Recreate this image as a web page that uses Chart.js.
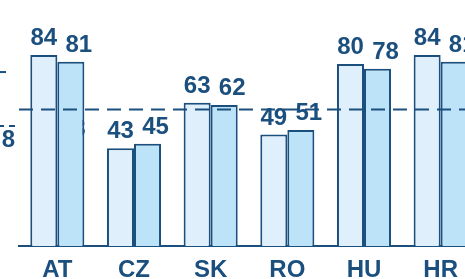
<!DOCTYPE html>
<html>
<head>
<meta charset="utf-8">
<script src="https://cdn.jsdelivr.net/npm/chart.js@4/dist/chart.umd.min.js"></script>
<style>
  html, body { margin: 0; padding: 0; background: #fff; overflow: hidden; }
  #wrap { width: 479px; height: 279px; }
</style>
</head>
<body>
<div id="wrap"><canvas id="chart" width="479" height="279"></canvas></div>
<script>
'use strict'
const countries = ['AT', 'CZ', 'SK', 'RO', 'HU', 'HR'];
const seriesA = [84, 43, 63, 49, 80, 84];
const seriesB = [81, 45, 62, 51, 78, 81];
const averageLine = 60;

const ink = '#1b4f7e';
const labelFont = 'bold 24px "Liberation Sans", Arial, sans-serif';

// value labels above each bar, second series sits a bit to the right
const valueLabels = {
  id: 'valueLabels',
  afterDatasetsDraw(chart) {
    const ctx = chart.ctx;
    ctx.save();
    ctx.font = labelFont;
    ctx.fillStyle = ink;
    ctx.textAlign = 'center';
    ctx.textBaseline = 'alphabetic';
    chart.data.datasets.forEach(function (ds, d) {
      const meta = chart.getDatasetMeta(d);
      meta.data.forEach(function (bar, i) {
        const shift = d === 1 ? 8 : 0;
        ctx.fillText(String(ds.data[i]), bar.x + shift, bar.y - 10);
      });
    });
    ctx.restore();
  }
};

// dashed average line across the bars + bits of the neighbouring panel on the left
const avgLine = {
  id: 'avgLine',
  beforeDatasetsDraw(chart) {
    const ctx = chart.ctx;
    const y = chart.scales.y;
    ctx.save();
    ctx.font = labelFont;
    ctx.fillStyle = ink;
    ctx.textAlign = 'right';
    ctx.fillText('58', 85.5, y.getPixelForValue(48.5));
    ctx.restore();
  },
  afterDatasetsDraw(chart) {
    const ctx = chart.ctx;
    const area = chart.chartArea;
    const y = chart.scales.y;
    ctx.save();
    ctx.strokeStyle = ink;
    ctx.lineWidth = 2;
    ctx.setLineDash([14, 8]);
    const py = y.getPixelForValue(averageLine);
    ctx.beginPath();
    ctx.moveTo(area.left, py);
    ctx.lineTo(chart.width, py);
    ctx.stroke();

    // left neighbour leftovers
    const pyLow = y.getPixelForValue(52.8);
    ctx.setLineDash([6, 5]);
    ctx.beginPath();
    ctx.moveTo(-2, pyLow);
    ctx.lineTo(18, pyLow);
    ctx.stroke();
    ctx.setLineDash([]);
    const pyHigh = y.getPixelForValue(76.5);
    ctx.beginPath();
    ctx.moveTo(0, pyHigh);
    ctx.lineTo(6, pyHigh);
    ctx.stroke();
    ctx.font = labelFont;
    ctx.fillStyle = ink;
    ctx.textAlign = 'right';
    ctx.fillText('8', 15, y.getPixelForValue(43.5));
    ctx.restore();
  }
};

new Chart(document.getElementById('chart'), {
  type: 'bar',
  data: {
    labels: countries,
    datasets: [{
      data: seriesA,
      backgroundColor: '#dff0fc',
      borderColor: ink,
      borderWidth: 2
    },
    {
      data: seriesB,
      backgroundColor: '#bde3f8',
      borderColor: ink,
      borderWidth: 2
    }]
  },
  options: {
    responsive: false,
    animation: false,
    layout: { padding: { left: 19, top: 18.6, right: 0, bottom: 0 } },
    datasets: { bar: { categoryPercentage: 0.705, barPercentage: 1 } },
    plugins: { legend: { display: false }, tooltip: { enabled: false } },
    scales: {
      x: {
        grid: { display: false, drawTicks: false },
        border: { color: ink, width: 2 },
        ticks: { color: ink, font: { family: '"Liberation Sans", Arial, sans-serif', size: 24, weight: 'bold' }, padding: 10 },
        afterFit: function (scale) { scale.height = 33; }
      },
      y: { display: false, min: 0, max: 100 }
    }
  },
  plugins: [avgLine, valueLabels]
});
</script>
</body>
</html>
